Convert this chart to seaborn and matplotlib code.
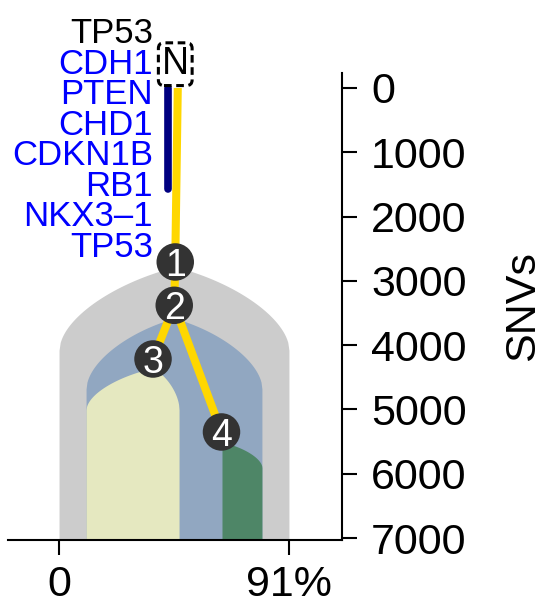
import numpy as np
import matplotlib
matplotlib.use("Agg")
import matplotlib.pyplot as plt
import seaborn as sns
import pandas as pd

# clones (subclone fractions in %, depth in SNVs)
clone_ids = [1, 2, 3, 4]
clone_left = [0.0, 10.7, 10.7, 64.5]
clone_right = [91.0, 80.3, 47.5, 80.3]
clone_top = [2780, 3580, 4355, 5505]
clone_shoulder = [1300, 1100, 650, 400]
clone_colors = ["#CCCCCC", "#91A7C1", "#E5E8C0", "#4E8667"]

# tree nodes
node_x = [46.0, 45.6, 37.2, 64.3]
node_y = [2706, 3380, 4215, 5350]
node_parent = [0, 1, 2, 2]  # 0 = normal (N)
root_x, root_y = 47.0, 0

# truncal driver genes
genes = ["TP53", "CDH1", "PTEN", "CHD1", "CDKN1B", "RB1", "NKX3\u20131", "TP53"]
gene_colors = ["black"] + ["#0000FF"] * 7
navy_bar = (43.1, 0, 1570)

x_ticks = [0, 91]
x_ticklabels = ["0", "91%"]
y_ticks = [0, 1000, 2000, 3000, 4000, 5000, 6000, 7000]

sns.set_style("ticks")
plt.rcParams["font.family"] = ["Liberation Sans", "DejaVu Sans"]
plt.rcParams.update({"text.color": "black", "axes.labelcolor": "black",
                     "xtick.color": "black", "ytick.color": "black"})

fig = plt.figure(figsize=(5.45, 6.09), dpi=100)
ax = fig.add_axes([8 / 545, 69 / 609, 334 / 545, 467 / 609])
ax.set_xlim(-20.2, 112)
ax.set_ylim(7030, -233)
y_bottom = 7030


def clone_outline(left, right, apex_x, apex_y, depth, n=200):
    xs = np.linspace(left, right, n)
    half = np.where(xs < apex_x, apex_x - left, right - apex_x)
    half = np.where(half <= 0, 1e-9, half)
    t = np.clip(np.abs(xs - apex_x) / half, 0, 1)
    f = 0.35 * t + 0.65 * (1 - np.sqrt(1 - t ** 2))
    return xs, apex_y + depth * f


for i in range(len(clone_ids)):
    xs, ys = clone_outline(clone_left[i], clone_right[i], node_x[i],
                           clone_top[i], clone_shoulder[i])
    ax.fill_between(xs, ys, y_bottom, color=clone_colors[i], lw=0, zorder=1 + i * 0.1)

# branches
px = [root_x] + node_x
py = [root_y] + node_y
for i, p in enumerate(node_parent):
    ax.plot([px[p], node_x[i]], [py[p], node_y[i]], color="#FFD700", lw=5.8,
            solid_capstyle="butt", zorder=3)

ax.plot([navy_bar[0], navy_bar[0]], [navy_bar[1], navy_bar[2]], color="#000080",
        lw=5.5, solid_capstyle="round", zorder=3)

nodes = pd.DataFrame({"x": node_x, "y": node_y, "id": clone_ids})
sns.scatterplot(data=nodes, x="x", y="y", s=27 ** 2, color="#333333",
                edgecolor="none", ax=ax, zorder=4, legend=False)
for _, r in nodes.iterrows():
    ax.text(r["x"], r["y"], str(int(r["id"])), color="white", fontsize=27,
            ha="center", va="center_baseline", zorder=5)

ax.text(root_x - 1.0, -370, "N", fontsize=27, ha="center", va="center", zorder=5,
        bbox=dict(boxstyle="round,pad=0.09,rounding_size=0.15", fc="none",
                  ec="black", ls=(0, (2.5, 1.5)), lw=2.2))

for i, g in enumerate(genes):
    ax.text(37.2, -700 + i * 475, g, color=gene_colors[i], fontsize=25,
            ha="right", va="baseline", zorder=5)

ax.set_xticks(x_ticks)
ax.set_xticklabels(x_ticklabels)
ax.set_yticks(y_ticks)
ax.yaxis.tick_right()
ax.yaxis.set_label_position("right")
ax.set_ylabel("SNVs", fontsize=31, labelpad=26)
ax.set_xlabel("")
ax.tick_params(axis="both", labelsize=31, length=11, width=1.5, color="black")
ax.tick_params(axis="y", pad=10)
ax.tick_params(axis="x", pad=7)
for s in ["top", "left"]:
    ax.spines[s].set_visible(False)
for s in ["bottom", "right"]:
    ax.spines[s].set_linewidth(1.5)
    ax.spines[s].set_color("black")

fig.savefig("out.png", dpi=100)
